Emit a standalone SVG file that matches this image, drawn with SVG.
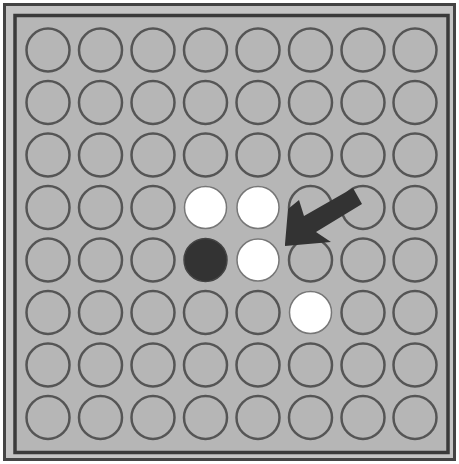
<svg xmlns="http://www.w3.org/2000/svg" width="459" height="464" viewBox="0 0 459 464">
<style>
.h{fill:none;stroke:#555;stroke-width:2.5}
.w{fill:#fff;stroke:#777;stroke-width:1.5}
.b{fill:#333;stroke:#444;stroke-width:1.5}
</style>
<defs><circle id="c" r="21.5" class="h"/></defs>
<rect x="0" y="0" width="459" height="464" fill="#fff"/>
<rect x="4.5" y="4.5" width="450" height="455" fill="#c4c4c4" stroke="#444" stroke-width="3"/>
<rect x="15" y="15.5" width="433" height="437" fill="#b6b6b6" stroke="#3a3a3a" stroke-width="3.5"/>
<g id="grid">
<g id="r0"><use href="#c" x="48" y="50"/><use href="#c" x="100.5" y="50"/><use href="#c" x="153" y="50"/><use href="#c" x="205.5" y="50"/><use href="#c" x="258" y="50"/><use href="#c" x="310.5" y="50"/><use href="#c" x="363" y="50"/><use href="#c" x="415" y="50"/></g>
<g id="r1"><use href="#c" x="48" y="102.5"/><use href="#c" x="100.5" y="102.5"/><use href="#c" x="153" y="102.5"/><use href="#c" x="205.5" y="102.5"/><use href="#c" x="258" y="102.5"/><use href="#c" x="310.5" y="102.5"/><use href="#c" x="363" y="102.5"/><use href="#c" x="415" y="102.5"/></g>
<g id="r2"><use href="#c" x="48" y="155"/><use href="#c" x="100.5" y="155"/><use href="#c" x="153" y="155"/><use href="#c" x="205.5" y="155"/><use href="#c" x="258" y="155"/><use href="#c" x="310.5" y="155"/><use href="#c" x="363" y="155"/><use href="#c" x="415" y="155"/></g>
<g id="r3"><use href="#c" x="48" y="207.5"/><use href="#c" x="100.5" y="207.5"/><use href="#c" x="153" y="207.5"/><use href="#c" x="310.5" y="207.5"/><use href="#c" x="363" y="207.5"/><use href="#c" x="415" y="207.5"/></g>
<g id="r4"><use href="#c" x="48" y="260"/><use href="#c" x="100.5" y="260"/><use href="#c" x="153" y="260"/><use href="#c" x="310.5" y="260"/><use href="#c" x="363" y="260"/><use href="#c" x="415" y="260"/></g>
<g id="r5"><use href="#c" x="48" y="312.5"/><use href="#c" x="100.5" y="312.5"/><use href="#c" x="153" y="312.5"/><use href="#c" x="205.5" y="312.5"/><use href="#c" x="258" y="312.5"/><use href="#c" x="363" y="312.5"/><use href="#c" x="415" y="312.5"/></g>
<g id="r6"><use href="#c" x="48" y="365"/><use href="#c" x="100.5" y="365"/><use href="#c" x="153" y="365"/><use href="#c" x="205.5" y="365"/><use href="#c" x="258" y="365"/><use href="#c" x="310.5" y="365"/><use href="#c" x="363" y="365"/><use href="#c" x="415" y="365"/></g>
<g id="r7"><use href="#c" x="48" y="417.5"/><use href="#c" x="100.5" y="417.5"/><use href="#c" x="153" y="417.5"/><use href="#c" x="205.5" y="417.5"/><use href="#c" x="258" y="417.5"/><use href="#c" x="310.5" y="417.5"/><use href="#c" x="363" y="417.5"/><use href="#c" x="415" y="417.5"/></g>
</g>
<g id="pieces">
<circle id="w1" cx="205.5" cy="207.5" r="21" class="w"/>
<circle id="w2" cx="258" cy="207.5" r="21" class="w"/>
<circle id="w3" cx="258" cy="260" r="21" class="w"/>
<circle id="w4" cx="310.5" cy="312.5" r="21" class="w"/>
<circle id="b1" cx="205.5" cy="260" r="21.5" class="b"/>
</g>
<g id="connectors">
<polygon points="285,244 288,209 299,200 304,216 353,188 362,204 316,232 331,242 285,246" fill="#333"/>
</g>
</svg>
